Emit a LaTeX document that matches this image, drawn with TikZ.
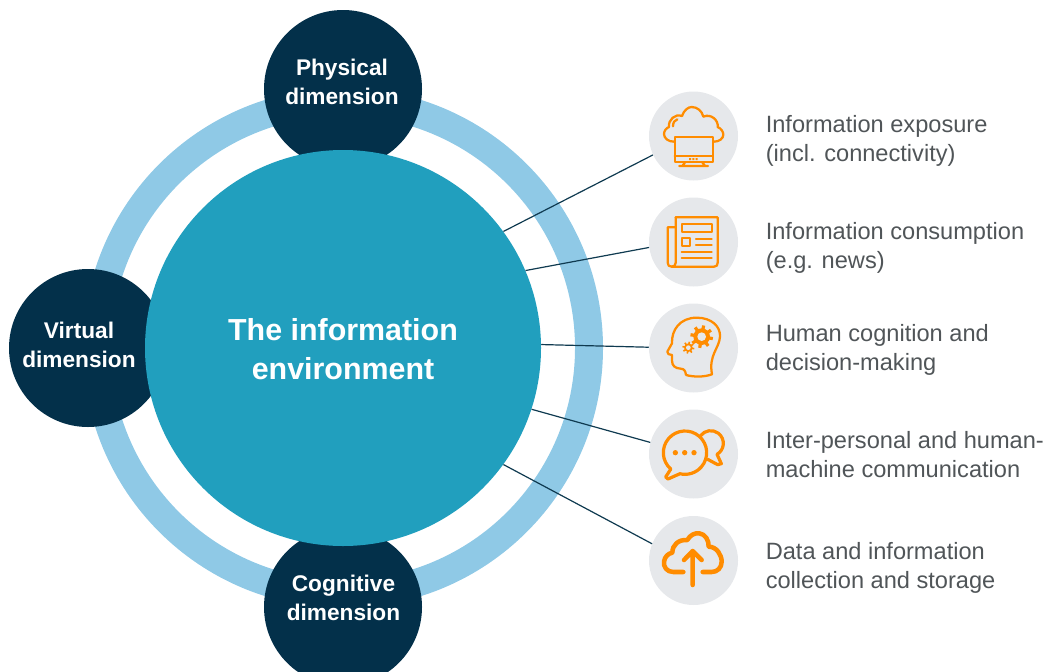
\documentclass[tikz,border=0pt]{standalone}
\usepackage{fontspec}
\setmainfont{Liberation Sans}
\definecolor{navy}{HTML}{03304A}
\definecolor{teal}{HTML}{219FBE}
\definecolor{ringblue}{HTML}{8FC9E6}
\definecolor{disc}{HTML}{E6E8EB}
\definecolor{label}{HTML}{505558}
\definecolor{wire}{HTML}{0F3A50}
\definecolor{icon}{HTML}{FF8C00}
\tikzset{
  hub/.style={circle,draw=none,fill=teal,minimum size=396\pxu,inner sep=0pt},
  dimdisc/.style={circle,draw=none,fill=navy,minimum size=158\pxu,inner sep=0pt},
  icondisc/.style={circle,draw=none,fill=disc,minimum size=89\pxu,inner sep=0pt},
  dimtext/.style={align=center,text=white,font=\fontsize{17}{21.75}\selectfont\bfseries,inner sep=0pt},
  hubtext/.style={align=center,text=white,font=\fontsize{22.8}{29.25}\selectfont\bfseries,inner sep=0pt},
  itemtext/.style={align=left,anchor=west,text=label,font=\fontsize{17.7}{21.75}\selectfont,inner sep=0pt},
  wireline/.style={draw=wire,line width=0.9pt},
  iconline/.style={draw=icon,line width=1.7pt,line join=round,line cap=round},
  iconthick/.style={draw=icon,line width=3.4pt,line join=round,line cap=round},
  iconmid/.style={draw=icon,line width=2.4pt,line join=round,line cap=round},
  zoomed/.style={x=0.25pt,y=-0.25pt}
}
\newcommand{\pxu}{*0.75pt}
\begin{document}
\begin{tikzpicture}[x=0.75pt,y=-0.75pt]
\useasboundingbox (0,0) rectangle (1044,671);
\clip (0,0) rectangle (1044,671);
% ring
\coordinate (ringc) at (343,348);
\draw[ringblue,line width=21pt] (ringc) circle[radius=246];
% dimension discs
\node[dimdisc] (phys) at (343,89) {};
\node[dimdisc] (virt) at (88,348) {};
\node[dimdisc] (cogn) at (343,607) {};
% hub
\node[hub] (hubc) at (343,348) {};
% icon discs
\node[icondisc] (c1) at (693.5,136) {};
\node[icondisc] (c2) at (693.5,242) {};
\node[icondisc] (c3) at (693.5,348) {};
\node[icondisc] (c4) at (693.5,454) {};
\node[icondisc] (c5) at (693.5,560.5) {};
% connectors
\draw[wireline] (hubc.36.1) -- (c1.205.7);
\draw[wireline] (hubc.23.6) -- (c2.187.9);
\draw[wireline] (hubc.1.3) -- (c3.179.5);
\draw[wireline] (hubc.-18) -- (c4.165.5);
\draw[wireline] (hubc.-36.3) -- (c5.158);
% texts
\node[dimtext] (tphys) at (342,81.5) {Physical\\dimension};
\node[dimtext] (tvirt) at (79,344.5) {Virtual\\dimension};
\node[dimtext] (tcogn) at (343.5,597.5) {Cognitive\\dimension};
\node[hubtext] (thub) at (343,349.5) {The information\\environment};
\node[itemtext] (t1) at (765.5,140.5) {Information exposure\\(incl. connectivity)};
\node[itemtext] (t2) at (765.5,248) {Information consumption\\(e.g. news)};
\node[itemtext] (t3) at (765.5,350) {Human cognition and\\decision-making};
\node[itemtext] (t4) at (765.5,454.5) {Inter-personal and human-\\machine communication};
\node[itemtext] (t5) at (765.5,567.5) {Data and information\\collection and storage};
% icons 1 and 2
\begin{scope}[shift={(640,85)},zoomed]
  \draw[iconline] (104,155) rectangle (218,232);
  \draw[iconline] (104,214) -- (218,214);
  \fill[icon] (147,219) rectangle (153,225) (157,219) rectangle (163,225) (167,219) rectangle (173,225);
  \draw[iconline] (135,232) -- (127,243) (187,232) -- (195,243) (118,243) -- (204,243);
  \draw[iconline] (102,170) .. controls (85,170) and (72,160) .. (72,147) .. controls (72,137) and (80,128) .. (87,126) .. controls (84,105) and (105,85) .. (126,93) .. controls (132,75) and (145,66) .. (155,66) .. controls (172,66) and (186,78) .. (190,95) .. controls (212,85) and (236,105) .. (233,126) .. controls (243,130) and (250,140) .. (250,149) .. controls (250,160) and (238,170) .. (222,170);
  \draw[iconline] (112,103) .. controls (104,105) and (99,112) .. (99,124);
  \draw[iconline] (107,397) -- (233,397) -- (233,533) .. controls (233,541) and (230,545) .. (222,545) -- (95,545) .. controls (87,545) and (83,541) .. (83,533) -- (83,427) -- (107,427);
  \draw[iconline] (107,397) -- (107,533) .. controls (107,541) and (103,545) .. (95,545);
  \draw[iconline] (127,416) rectangle (215,440);
  \draw[iconline] (127,460) rectangle (150,483);
  \draw[iconline] (168,462) -- (215,462) (168,480) -- (215,480) (125,501) -- (215,501) (125,520) -- (215,520);
\end{scope}
% icons 3 and 4
\begin{scope}[shift={(640,295)},zoomed]
  \draw[iconline] (138,240) .. controls (136,228) and (134,222) .. (122,221) .. controls (105,220) and (96,212) .. (96,197) -- (96,180) .. controls (88,180) and (80,176) .. (82,170) -- (96,145) .. controls (94,105) and (120,68) .. (170,68) .. controls (215,68) and (242,95) .. (240,125) .. controls (238,160) and (205,180) .. (216,238) .. controls (190,247) and (160,246) .. (138,240);
  \foreach \a in {0,45,...,315}{
    \draw[icon,line width=2.4pt,line cap=butt] (185,125) ++(\a+10:22) -- ++(\a+10:12);
  }
  \fill[icon] (185,125) circle[radius=25];
  \fill[disc] (185,125) circle[radius=13];
  \foreach \a in {0,45,...,315}{
    \draw[icon,line width=1.2pt,line cap=butt] (145,158) ++(\a+10:11) -- ++(\a+10:7);
  }
  \fill[icon] (145,158) circle[radius=13];
  \fill[disc] (145,158) circle[radius=7];
  \draw[iconmid] (135,473) ++(131:65) arc[start angle=131,end angle=463.6,radius=65] -- (84,552) -- (77,546) -- cycle;
  \draw[iconmid] (212,445) ++(-143.7:38) arc[start angle=-143.7,end angle=60,radius=38] -- (244,506) -- (233,509) -- (203,493);
  \fill[icon] (106,473) circle[radius=8] (134,473) circle[radius=8] (162,473) circle[radius=8];
\end{scope}
% icon 5
\begin{scope}[shift={(640,505)},zoomed]
  \draw[iconthick] (130,201) -- (100,201) .. controls (80,201) and (70,185) .. (72,170) .. controls (74,155) and (85,145) .. (97,143) .. controls (97,120) and (115,103) .. (142,105) .. controls (150,90) and (165,83) .. (178,85) .. controls (195,87) and (207,105) .. (206,125) .. controls (230,125) and (245,150) .. (245,170) .. controls (245,188) and (232,201) .. (215,201) -- (188,201);
  \draw[iconthick] (158,240) -- (158,138) (132,165) -- (158,138) -- (185,165);
\end{scope}
\end{tikzpicture}
\end{document}
